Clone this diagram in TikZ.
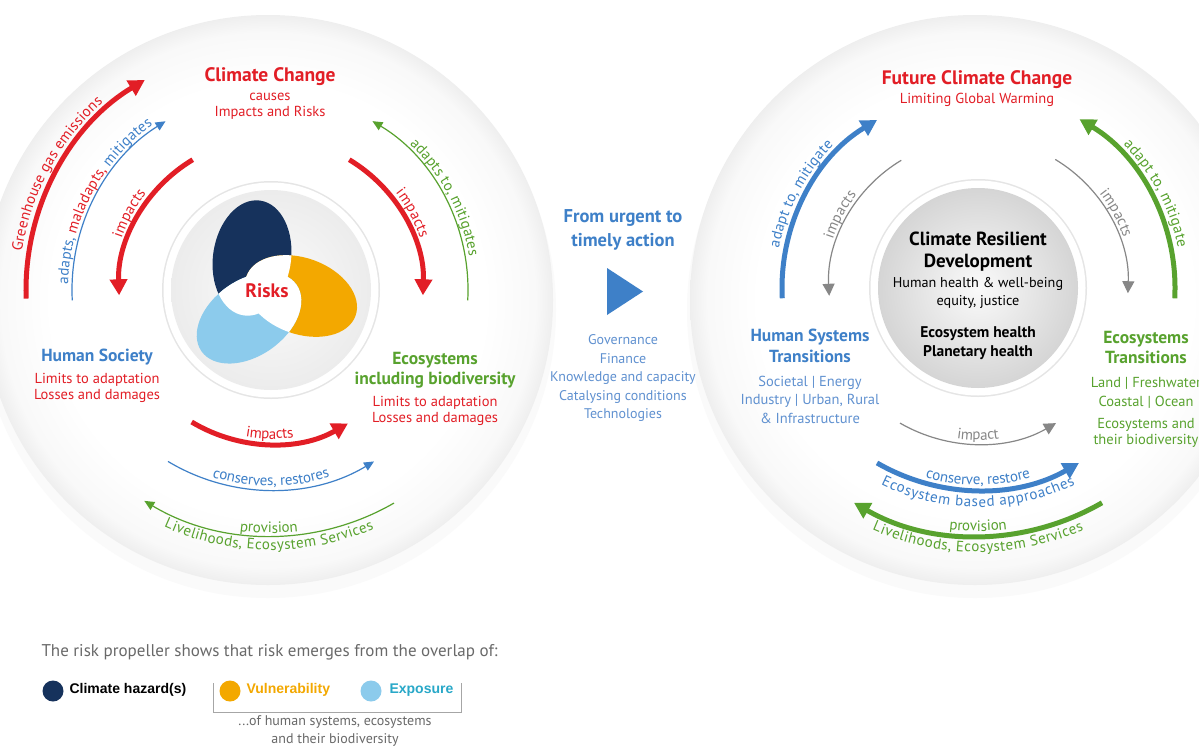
\documentclass[tikz,border=0pt]{standalone}
\usepackage{fontspec}
\setmainfont{PT Sans}
\newfontfamily\arialfont{Liberation Sans}
\usetikzlibrary{arrows.meta,calc,decorations.text,positioning}

\definecolor{ipccred}{RGB}{226,30,38}
\definecolor{ipccblue}{RGB}{62,128,200}
\definecolor{paleblue}{RGB}{96,145,208}
\definecolor{ipccgreen}{RGB}{88,162,46}
\definecolor{navy}{RGB}{22,50,92}
\definecolor{amber}{RGB}{243,168,0}
\definecolor{sky}{RGB}{140,203,236}
\definecolor{expoteal}{RGB}{40,168,200}
\definecolor{arrowgray}{RGB}{135,135,135}
\definecolor{notegray}{RGB}{105,105,105}

\pgfdeclareradialshading{diskfade}{\pgfpoint{0bp}{0bp}}{color(0bp)=(white); color(19bp)=(white); color(23.5bp)=(gray!5); color(25bp)=(gray!13); color(50bp)=(gray!13)}

\newcommand\arcfont{\fontsize{15}{16}\selectfont}
\newcommand\petalH{(252,-258) circle[x radius=58, y radius=39, rotate=82]}
\newcommand\petalV{(301,-296) circle[x radius=58, y radius=38, rotate=-20]}
\newcommand\petalE{(249,-318) circle[x radius=58, y radius=38, rotate=215]}

\begin{document}
\begin{tikzpicture}[x=1pt, y=1pt,
  bigarrow/.style={line width=5pt, -{Triangle[length=16pt,width=17pt]}},
  thinarrow/.style={line width=1.2pt, -{Triangle[length=10pt,width=9pt]}},
  grayarrow/.style={line width=1.2pt, arrowgray, -{Triangle[length=12pt,width=12pt]}},
  arclabel/.style={decorate, decoration={text along path, text align=center, raise=#1}},
  heading/.style={font=\fontsize{19.5}{22}\selectfont\bfseries, align=center},
  subhead/.style={font=\fontsize{17.5}{20}\selectfont\bfseries, align=center},
  body/.style={font=\fontsize{14.5}{16}\selectfont, align=center},
  keytext/.style={font=\arialfont\bfseries\fontsize{14}{16}\selectfont, anchor=west}]

  \useasboundingbox (0,0) rectangle (1199,-747);
  \fill[white] (0,0) rectangle (1199,-747);

  \coordinate (cL) at (271,-290);
  \coordinate (cR) at (978,-288);
  \coordinate (pv) at (267,-291);

  % the two big discs
  \fill[gray!4] (268,-310) circle (288);
  \shade[shading=diskfade] (268,-300) circle (285);
  \fill[gray!4] (975,-310) circle (288);
  \shade[shading=diskfade] (975,-300) circle (285);

  % inner circles
  \fill[gray!20] (cL) circle (109);
  \fill[white] (cL) circle (107.5);
  \shade[inner color=gray!3, outer color=gray!15] (cL) circle (100);
  \fill[gray!20] (cR) circle (109);
  \fill[white] (cR) circle (107.5);
  \shade[inner color=gray!4, outer color=gray!33] (cR) circle (100);

  % risk propeller
  \fill[navy] \petalH;
  \fill[amber] \petalV;
  \fill[sky] \petalE;
  \begin{scope}\clip \petalH; \fill[white] \petalV; \end{scope}
  \begin{scope}\clip \petalV; \fill[white] \petalE; \end{scope}
  \begin{scope}\clip \petalE; \fill[white] \petalH; \end{scope}
  \node[font=\fontsize{19.5}{22}\selectfont\bfseries, text=ipccred] (risks) at (pv) {Risks};

  % left: upper arcs
  \draw[bigarrow, ipccred] ($(cL)+(182:245)$) arc[start angle=182, end angle=121, radius=245];
  \path[arclabel=7pt, decoration={text={|\arcfont\color{ipccred}|Greenhouse gas emissions}}]
    ($(cL)+(182:245)$) arc[start angle=182, end angle=121, radius=245];
  \draw[thinarrow, ipccblue] ($(cL)+(183:199)$) arc[start angle=183, end angle=122, radius=199];
  \path[arclabel=4pt, decoration={text={|\arcfont\color{ipccblue}|adapts, |\arcfont\color{ipccred}|maladapts, |\arcfont\color{ipccblue}|mitigates}}]
    ($(cL)+(184:199)$) arc[start angle=184, end angle=120, radius=199];
  \draw[bigarrow, ipccred] ($(cL)+(121:152)$) arc[start angle=121, end angle=182, radius=152];
  \path[arclabel=6pt, decoration={text={|\arcfont\color{ipccred}|impacts}}]
    ($(cL)+(182:152)$) arc[start angle=182, end angle=121, radius=152];
  \draw[bigarrow, ipccred] ($(cL)+(59:152)$) arc[start angle=59, end angle=-2, radius=152];
  \path[arclabel=6pt, decoration={text={|\arcfont\color{ipccred}|impacts}}]
    ($(cL)+(59:152)$) arc[start angle=59, end angle=-2, radius=152];
  \draw[thinarrow, ipccgreen] ($(cL)+(-3:197)$) arc[start angle=-3, end angle=59, radius=197];
  \path[arclabel=4pt, decoration={text={|\arcfont\color{ipccgreen}|adapts to, mitigates}}]
    ($(cL)+(59:197)$) arc[start angle=59, end angle=-3, radius=197];

  % left: lower arcs
  \draw[bigarrow, ipccred] ($(cL)+(239:154)$) arc[start angle=239, end angle=300, radius=154];
  \path[arclabel=5pt, decoration={text={|\arcfont\color{ipccred}|impacts}}]
    ($(cL)+(239:154)$) arc[start angle=239, end angle=300, radius=154];
  \draw[thinarrow, ipccblue] ($(cL)+(239:200)$) arc[start angle=239, end angle=301, radius=200];
  \path[arclabel=4pt, decoration={text={|\arcfont\color{ipccblue}|conserves, restores}}]
    ($(cL)+(239:200)$) arc[start angle=239, end angle=301, radius=200];
  \draw[thinarrow, ipccgreen] ($(cL)+(300:246)$) arc[start angle=300, end angle=239, radius=246];
  \path[arclabel=3pt, decoration={text={|\arcfont\color{ipccgreen}|provision}}]
    ($(cL)+(239:246)$) arc[start angle=239, end angle=300, radius=246];
  \path[arclabel=-14pt, decoration={text={|\arcfont\color{ipccgreen}|Livelihoods, Ecosystem Services}}]
    ($(cL)+(239:246)$) arc[start angle=239, end angle=300, radius=246];

  % left: labels
  \node[heading, text=ipccred] (climate) at (270,-77) {Climate Change};
  \node[body, text=ipccred] (climatesub) at (270,-106) {causes\\Impacts and Risks};
  \node[subhead, text=ipccblue] (society) at (97,-357) {Human Society};
  \node[body, text=ipccred] (societysub) at (97,-388) {Limits to adaptation\\Losses and damages};
  \node[subhead, text=ipccgreen] (ecosys) at (435,-370) {Ecosystems\\including biodiversity};
  \node[body, text=ipccred] (ecosyssub) at (435,-410.5) {Limits to adaptation\\Losses and damages};

  % middle
  \node[subhead, text=ipccblue, font=\fontsize{18.5}{24}\selectfont\bfseries] (urgent) at (623,-230) {From urgent to\\timely action};
  \fill[ipccblue] (607,-268) -- (607,-315) -- (643,-291.5) -- cycle;
  \node[body, text=paleblue, font=\fontsize{14}{18.5}\selectfont] (means) at (623,-378)
    {Governance\\Finance\\Knowledge and capacity\\Catalysing conditions\\Technologies};

  % right: upper arcs
  \draw[bigarrow, ipccblue] ($(cR)+(183:196)$) arc[start angle=183, end angle=121, radius=196];
  \path[arclabel=7pt, decoration={text={|\arcfont\color{ipccblue}|adapt to, mitigate}}]
    ($(cR)+(183:196)$) arc[start angle=183, end angle=121, radius=196];
  \draw[grayarrow] ($(cR)+(121:149)$) arc[start angle=121, end angle=183, radius=149];
  \path[arclabel=4pt, decoration={text={|\arcfont\color{arrowgray}|impacts}}]
    ($(cR)+(183:149)$) arc[start angle=183, end angle=121, radius=149];
  \draw[grayarrow] ($(cR)+(59:150)$) arc[start angle=59, end angle=-2, radius=150];
  \path[arclabel=4pt, decoration={text={|\arcfont\color{arrowgray}|impacts}}]
    ($(cR)+(59:150)$) arc[start angle=59, end angle=-2, radius=150];
  \draw[bigarrow, ipccgreen] ($(cR)+(-3:197)$) arc[start angle=-3, end angle=59, radius=197];
  \path[arclabel=7pt, decoration={text={|\arcfont\color{ipccgreen}|adapt to, mitigate}}]
    ($(cR)+(59:197)$) arc[start angle=59, end angle=-3, radius=197];

  % right: lower arcs
  \draw[grayarrow] ($(cR)+(240:156)$) arc[start angle=240, end angle=300, radius=156];
  \path[arclabel=4pt, decoration={text={|\arcfont\color{arrowgray}|impact}}]
    ($(cR)+(240:156)$) arc[start angle=240, end angle=300, radius=156];
  \draw[bigarrow, ipccblue] ($(cR)+(240:202)$) arc[start angle=240, end angle=300, radius=202];
  \path[arclabel=5pt, decoration={text={|\arcfont\color{ipccblue}|conserve, restore}}]
    ($(cR)+(240:202)$) arc[start angle=240, end angle=300, radius=202];
  \path[arclabel=-17pt, decoration={text={|\arcfont\color{ipccblue}|Ecosystem based approaches}}]
    ($(cR)+(238:202)$) arc[start angle=238, end angle=302, radius=202];
  \draw[bigarrow, ipccgreen] ($(cR)+(300:248)$) arc[start angle=300, end angle=240, radius=248];
  \path[arclabel=5pt, decoration={text={|\arcfont\color{ipccgreen}|provision}}]
    ($(cR)+(240:248)$) arc[start angle=240, end angle=300, radius=248];
  \path[arclabel=-16pt, decoration={text={|\arcfont\color{ipccgreen}|Livelihoods, Ecosystem Services}}]
    ($(cR)+(240:248)$) arc[start angle=240, end angle=300, radius=248];

  % right: labels
  \node[heading, text=ipccred] (future) at (977,-80) {Future Climate Change};
  \node[body, text=ipccred] (futuresub) at (977,-100) {Limiting Global Warming};
  \node[heading, font=\fontsize{19}{22}\selectfont\bfseries] (crd) at (978,-252) {Climate Resilient\\Development};
  \node[body, font=\fontsize{14.2}{18}\selectfont] (crdsub) at (978,-293) {Human health \& well-being\\equity, justice};
  \node[body, font=\fontsize{15.5}{19}\selectfont\bfseries] (health) at (978,-343.5) {Ecosystem health\\Planetary health};
  \node[subhead, text=ipccblue, font=\fontsize{17.5}{21}\selectfont\bfseries] (humansys) at (810,-345.5) {Human Systems\\Transitions};
  \node[body, text=paleblue, font=\fontsize{14.5}{18.5}\selectfont] (humansyssub) at (810,-399.5)
    {Societal | Energy\\Industry | Urban, Rural\\\& Infrastructure};
  \node[subhead, text=ipccgreen, font=\fontsize{17.5}{20}\selectfont\bfseries] (ecotrans) at (1146,-347) {Ecosystems\\Transitions};
  \node[body, text=ipccgreen, font=\fontsize{14.5}{19}\selectfont] (ecotranssub) at (1146,-392.5)
    {Land | Freshwater\\Coastal | Ocean};
  \node[body, text=ipccgreen, font=\fontsize{14.5}{16}\selectfont] (ecotranssub2) at (1146,-433)
    {Ecosystems and\\their biodiversity};

  % key
  \node[anchor=west, text=notegray, font=\fontsize{17}{20}\selectfont] (keytitle) at (38,-652)
    {The risk propeller shows that risk emerges from the overlap of:};
  \fill[navy] (53,-691) circle (10.5);
  \node[keytext, text={RGB:red,25;green,32;blue,52}] (hazard) at (66,-690) {Climate hazard(s)};
  \draw[gray!70, line width=0.9pt] (213,-683) |- (461,-712) -- (461,-683);
  \fill[amber] (230,-691) circle (10.5);
  \node[keytext, text=amber] (vuln) at (243,-690) {Vulnerability};
  \fill[sky] (371,-691) circle (10.5);
  \node[keytext, text=expoteal] (expo) at (386,-690) {Exposure};
  \node[body, text=notegray, font=\fontsize{14}{18}\selectfont] (ofhuman) at (335,-731)
    {...of human systems, ecosystems\\and their biodiversity};
\end{tikzpicture}
\end{document}
